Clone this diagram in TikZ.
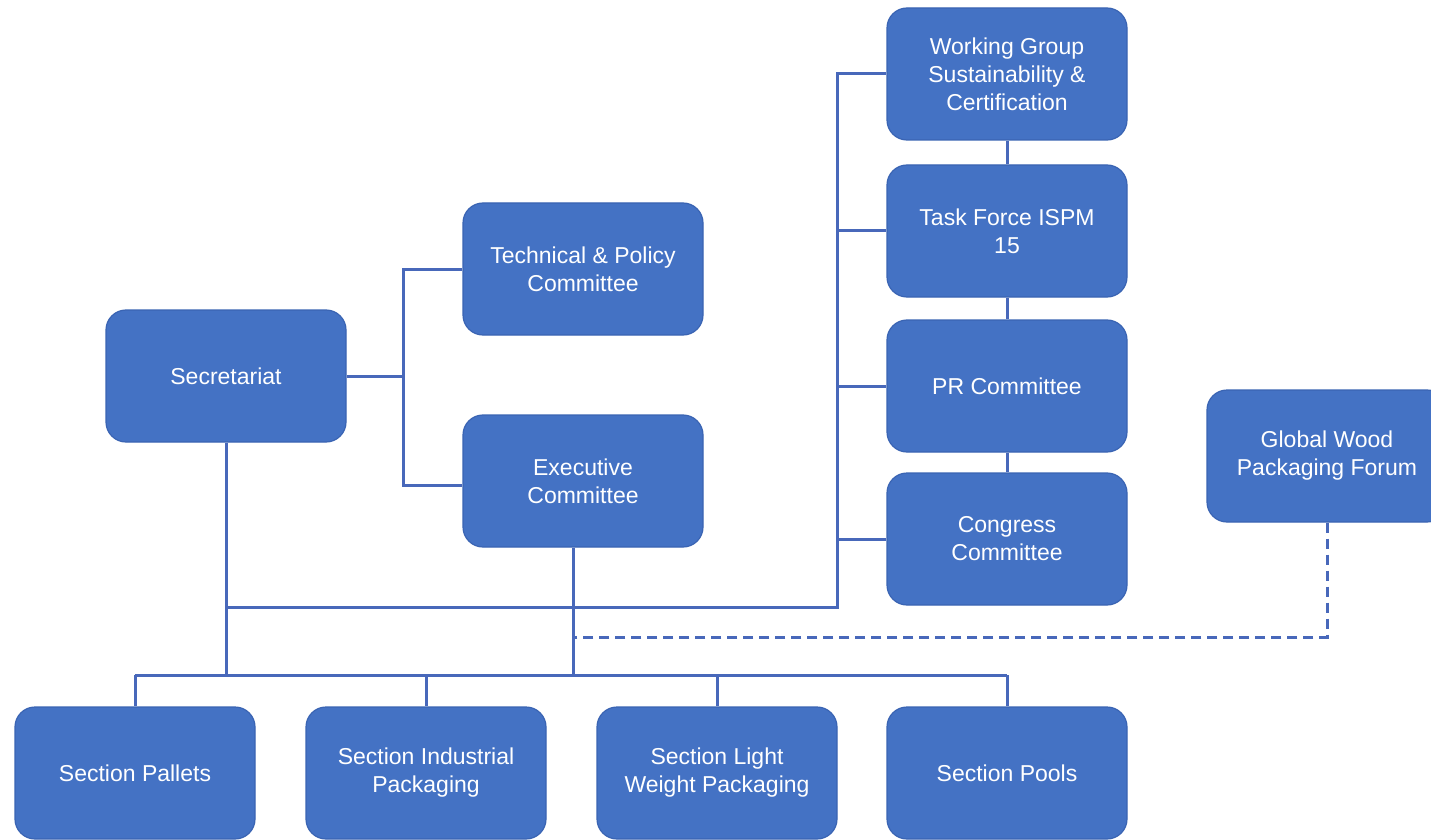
\documentclass[tikz,border=0pt]{standalone}
\usepackage{fontspec}
\setmainfont{Liberation Sans}
\definecolor{boxblue}{HTML}{4472C4}
\definecolor{boxedge}{HTML}{3A64B3}
\definecolor{linkblue}{HTML}{4868BA}
\begin{document}
\begin{tikzpicture}[x=0.5pt,y=-0.5pt,
  box/.style={draw=boxedge, line width=0.6pt, fill=boxblue, rounded corners=10pt,
    minimum width=120pt, minimum height=66pt, inner sep=2pt, align=center,
    text=white, font=\fontsize{11.5pt}{14pt}\selectfont},
  conn/.style={draw=linkblue, line width=1.5pt},
  dconn/.style={draw=linkblue, line width=1.5pt, dash pattern=on 5pt off 3pt}]
\clip (0,0) rectangle (1431,840);
\fill[white] (0,0) rectangle (1431,840);

% junction coordinates
\coordinate (spineL) at (403,0);
\coordinate (spineR) at (837,0);
\coordinate (upper) at (0,607);
\coordinate (dash) at (0,637);
\coordinate (bus) at (0,675);

% nodes
\node[box] (wg) at (1007,74) {Working Group\\Sustainability \&\\Certification};
\node[box] (tf) at (1007,231) {Task Force ISPM\\15};
\node[box] (pr) at (1007,386) {PR Committee};
\node[box] (cc) at (1007,539) {Congress\\Committee};
\node[box] (tp) at (583,269) {Technical \& Policy\\Committee};
\node[box] (ec) at (583,481) {Executive\\Committee};
\node[box] (sec) at (226,376) {Secretariat};
\node[box] (gw) at (1327,456) {Global Wood\\Packaging Forum};
\node[box] (sp) at (135,773) {Section Pallets};
\node[box] (si) at (426,773) {Section Industrial\\Packaging};
\node[box] (sl) at (717,773) {Section Light\\Weight Packaging};
\node[box] (spo) at (1007,773) {Section Pools};

\coordinate (ecdrop) at ([xshift=-5pt]ec.south);

% left spine
\draw[conn] (sec.east) -- (sec.east -| spineL);
\draw[conn] (tp.west) -- (tp.west -| spineL) -- ([yshift=-2pt]ec.west -| spineL) -- ([yshift=-2pt]ec.west);

% secretariat down to bus and to right spine
\draw[conn] (sec.south) -- (sec.south |- bus);
\draw[conn] (sec.south |- upper) -- (upper -| spineR) -- (wg.west -| spineR) -- (wg.west);
\draw[conn] (tf.west -| spineR) -- (tf.west);
\draw[conn] (pr.west -| spineR) -- (pr.west);
\draw[conn] (cc.west -| spineR) -- (cc.west);

% right column chain
\draw[conn] (wg.south) -- (tf.north);
\draw[conn] (tf.south) -- (pr.north);
\draw[conn] (pr.south) -- (cc.north);

% executive down to bus
\draw[conn] (ecdrop) -- (ecdrop |- bus);

% bus and drops
\draw[conn] (sp.north |- bus) -- (spo.north |- bus);
\draw[conn] (sp.north |- bus) -- (sp.north);
\draw[conn] (si.north |- bus) -- (si.north);
\draw[conn] (sl.north |- bus) -- (sl.north);
\draw[conn] (spo.north |- bus) -- (spo.north);

% dashed link
\draw[dconn] (gw.south) -- (gw.south |- dash) -- (ecdrop |- dash);
\end{tikzpicture}
\end{document}
